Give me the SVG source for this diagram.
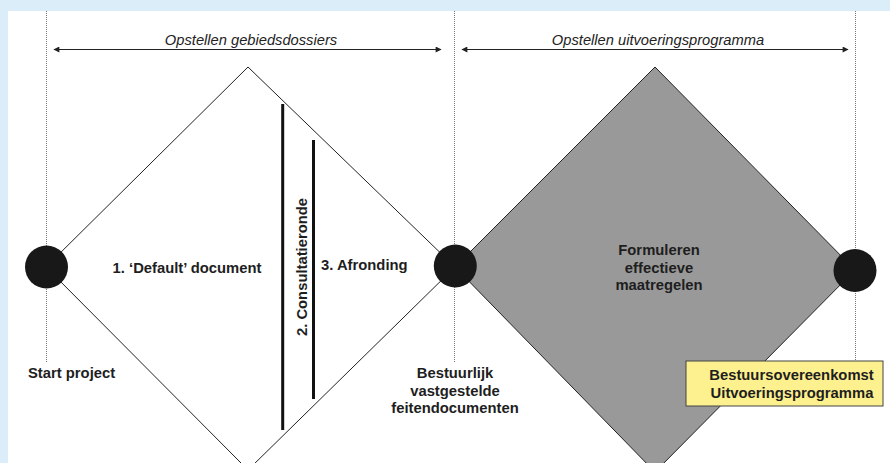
<svg xmlns="http://www.w3.org/2000/svg" width="890" height="463" viewBox="0 0 890 463">
<defs>
<style>
.t{font-family:"Liberation Sans",Arial,sans-serif;font-size:14.8px;font-weight:bold;fill:#1e1e1e}
.it{font-family:"Liberation Sans",Arial,sans-serif;font-size:14.7px;font-style:italic;fill:#222;text-anchor:middle}
.dot{stroke:#777;stroke-width:1;stroke-dasharray:1 1;fill:none}
.arr{stroke:#222;stroke-width:1.2;fill:none;marker-start:url(#ah);marker-end:url(#ah)}
.node{fill:#181818}
.bar{stroke:#111;stroke-width:3}
</style>
<marker id="ah" viewBox="0 0 10 10" refX="9" refY="5" markerWidth="7" markerHeight="6" orient="auto-start-reverse" markerUnits="userSpaceOnUse">
<path d="M0,0 L10,5 L0,10 Z" fill="#222"/>
</marker>
</defs>
<rect x="0" y="0" width="890" height="463" fill="#dbedf8"/>
<rect x="8" y="11" width="882" height="452" fill="#ffffff"/>

<g id="guides">
<line class="dot" x1="46.5" y1="11" x2="46.5" y2="362"/>
<line class="dot" x1="454.5" y1="11" x2="454.5" y2="362"/>
<line class="dot" x1="855.5" y1="11" x2="855.5" y2="362"/>
</g>

<g id="phase-gebiedsdossiers">
<path d="M248,67 L455,267 L248,470 L46,267 Z" fill="#ffffff" stroke="#222" stroke-width="1"/>
<line class="bar" x1="282.7" y1="104" x2="282.7" y2="430"/>
<line class="bar" x1="313.5" y1="140" x2="313.5" y2="399"/>
<text class="t" x="187" y="273" text-anchor="middle">1. ‘Default’ document</text>
<text class="t" x="0" y="0" text-anchor="middle" transform="translate(306.5,267) rotate(-90)">2. Consultatieronde</text>
<text class="t" x="321" y="270">3. Afronding</text>
</g>

<g id="phase-uitvoeringsprogramma">
<path d="M655,67 L855,270 L655,472 L455,267 Z" fill="#999999" stroke="#222" stroke-width="1"/>
<text class="t" x="659" y="255" text-anchor="middle">Formuleren</text>
<text class="t" x="659" y="272.7" text-anchor="middle">effectieve</text>
<text class="t" x="659" y="290" text-anchor="middle">maatregelen</text>
</g>

<g id="connectors">
<line class="arr" x1="54" y1="49.5" x2="441" y2="49.5"/>
<line class="arr" x1="462" y1="49.5" x2="848" y2="49.5"/>
<text class="it" x="251" y="45">Opstellen gebiedsdossiers</text>
<text class="it" x="658" y="45">Opstellen uitvoeringsprogramma</text>
</g>

<g id="start-project">
<circle class="node" cx="46.5" cy="267" r="21.5"/>
<text class="t" x="28" y="378">Start project</text>
</g>

<g id="bestuurlijk">
<circle class="node" cx="455.3" cy="266" r="21.5"/>
<text class="t" x="455" y="378" text-anchor="middle">Bestuurlijk</text>
<text class="t" x="455" y="395.5" text-anchor="middle">vastgestelde</text>
<text class="t" x="455" y="413" text-anchor="middle">feitendocumenten</text>
</g>

<g id="eind">
<circle class="node" cx="855" cy="270.5" r="21.5"/>
</g>

<g id="bestuursovereenkomst">
<rect x="686" y="361" width="197" height="45" fill="#fdf08e" stroke="#444" stroke-width="1"/>
<text class="t" x="791.5" y="380" text-anchor="middle">Bestuursovereenkomst</text>
<text class="t" x="792" y="397.5" text-anchor="middle">Uitvoeringsprogramma</text>
</g>
</svg>
